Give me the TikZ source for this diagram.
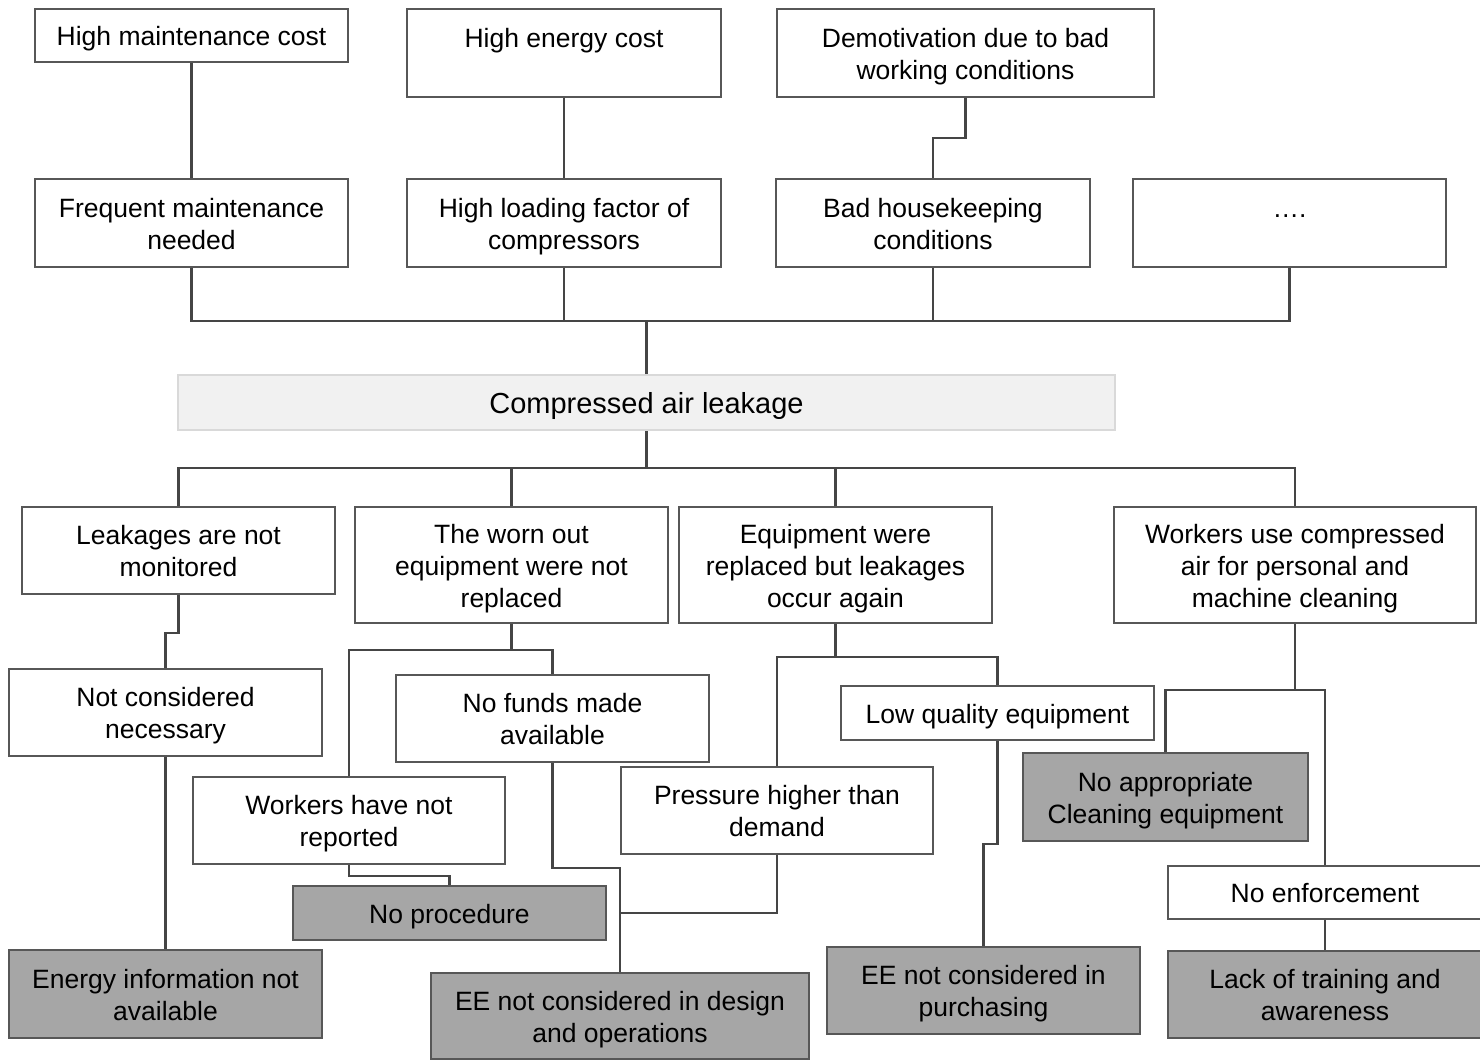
\documentclass[tikz,border=0pt]{standalone}
\usepackage{fontspec}
\setmainfont{Liberation Sans}
\definecolor{boxline}{HTML}{575757}
\definecolor{wire}{HTML}{454545}
\definecolor{rootfill}{HTML}{F1F1F1}
\definecolor{rootline}{HTML}{D9D9D9}
\definecolor{leaffill}{HTML}{A6A6A6}
% invisible struts: ascent for the first line, descent for the last one
\newcommand\fs{\rule{0pt}{0.98em}}
\newcommand\fe{\rule[-0.212em]{0pt}{0.212em}}
\begin{document}
\begin{tikzpicture}[x=1pt,y=-1pt,
  cause/.style={draw=boxline, line width=1.8pt, fill=white, inner sep=0pt, align=center,
    font=\fontsize{26.5}{32}\selectfont, text=black},
  rootcause/.style={cause, fill=leaffill},
  problem/.style={draw=rootline, line width=2pt, fill=rootfill, inner sep=0pt, align=center,
    font=\fontsize{29}{35}\selectfont, text=black},
  wirestyle/.style={draw=wire, line width=2.2pt}]
\fill[white] (0,0) rectangle (1480,1060);
\useasboundingbox (0,0) rectangle (1480,1060);

% effects
\node[cause, minimum width=313pt, minimum height=53pt] (A1) at (191.5,35.5) {\fs High maintenance cost\fe};
\node[cause, minimum width=314pt, minimum height=88pt] (A2) at (564,53) {\fs High energy cost\\ ~\fe};
\node[cause, minimum width=377pt, minimum height=88pt] (A3) at (965.5,53) {\fs Demotivation due to bad\\working conditions\fe};
\node[cause, minimum width=313pt, minimum height=88pt] (B1) at (191.5,223) {\fs Frequent maintenance\\needed\fe};
\node[cause, minimum width=314pt, minimum height=88pt] (B2) at (564,223) {\fs High loading factor of\\compressors\fe};
\node[cause, minimum width=314pt, minimum height=88pt] (B3) at (933,223) {\fs Bad housekeeping\\conditions\fe};
\node[cause, minimum width=313pt, minimum height=88pt] (B4) at (1289.5,223) {\fs ….\\ ~\fe};

% core problem
\node[problem, minimum width=937pt, minimum height=55pt] (C) at (646.5,402.5) {\fs Compressed air leakage\fe};

% causes
\node[cause, minimum width=313pt, minimum height=87pt] (L1) at (178.5,550.5) {\fs Leakages are not\\monitored\fe};
\node[cause, minimum width=313pt, minimum height=116pt] (L2) at (511.5,565) {\fs The worn out\\equipment were not\\replaced\fe};
\node[cause, minimum width=313pt, minimum height=116pt] (L3) at (835.5,565) {\fs Equipment were\\replaced but leakages\\occur again\fe};
\node[cause, minimum width=362pt, minimum height=116pt] (L4) at (1295,565) {\fs Workers use compressed\\air for personal and\\machine cleaning\fe};

\node[cause, minimum width=313pt, minimum height=87pt] (N1) at (165.5,712.5) {\fs Not considered\\necessary\fe};
\node[cause, minimum width=313pt, minimum height=87pt] (F) at (552.5,718.5) {\fs No funds made\\available\fe};
\node[cause, minimum width=312pt, minimum height=87pt] (W) at (349,820.5) {\fs Workers have not\\reported\fe};
\node[cause, minimum width=312pt, minimum height=87pt] (P) at (777,810.5) {\fs Pressure higher than\\demand\fe};
\node[cause, minimum width=313pt, minimum height=54pt] (LQ) at (997.5,713) {\fs Low quality equipment\fe};
\node[cause, minimum width=314pt, minimum height=53pt] (NE) at (1325,892.5) {\fs No enforcement\fe};

% root causes
\node[rootcause, minimum width=313pt, minimum height=54pt] (NP) at (449.5,913) {\fs No procedure\fe};
\node[rootcause, minimum width=285pt, minimum height=88pt] (NA) at (1165.5,797) {\fs No appropriate\\Cleaning equipment\fe};
\node[rootcause, minimum width=313pt, minimum height=88pt] (E1) at (165.5,994) {\fs Energy information not\\available\fe};
\node[rootcause, minimum width=378pt, minimum height=86pt] (EE1) at (620,1016) {\fs EE not considered in design\\and operations\fe};
\node[rootcause, minimum width=313pt, minimum height=87pt] (EE2) at (983.5,990.5) {\fs EE not considered in\\purchasing\fe};
\node[rootcause, minimum width=314pt, minimum height=87pt] (LT) at (1325,994.5) {\fs Lack of training and\\awareness\fe};

% bus levels
\coordinate (busup) at (0,321);
\coordinate (busdown) at (0,468);
\coordinate (joinEE) at (0,913);

% upper tree
\draw[wirestyle] (A1.south) -- (B1.north);
\draw[wirestyle] (A2.south) -- (B2.north);
\draw[wirestyle] (A3.south) -- ++(0,40) -| (B3.north);
\draw[wirestyle] (B1.south) -- (B1.south |- busup) -- (B4.south |- busup) -- (B4.south);
\draw[wirestyle] (B2.south) -- (B2.south |- busup);
\draw[wirestyle] (B3.south) -- (B3.south |- busup);
\draw[wirestyle] (C.north) -- (C.north |- busup);

% lower tree
\draw[wirestyle] (C.south) -- (C.south |- busdown);
\draw[wirestyle] (L1.north) -- (L1.north |- busdown) -- (L4.north |- busdown) -- (L4.north);
\draw[wirestyle] (L2.north) -- (L2.north |- busdown);
\draw[wirestyle] (L3.north) -- (L3.north |- busdown);

\draw[wirestyle] (L1.south) -- ++(0,38) -| (N1.north);
\draw[wirestyle] (N1.south) -- (E1.north);

\draw[wirestyle] (L2.south) -- ++(0,26) -| (W.north);
\draw[wirestyle] (L2.south) ++(0,26) -| (F.north);
\draw[wirestyle] (W.south) -- ++(0,11) -| (NP.north);
\draw[wirestyle] (F.south) -- ++(0,105) -| (EE1.north);
\draw[wirestyle] (P.south) |- (EE1.north |- joinEE);

\draw[wirestyle] (L3.south) -- ++(0,33) -| (P.north);
\draw[wirestyle] (L3.south) ++(0,33) -| (LQ.north);
\draw[wirestyle] (LQ.south) -- ++(0,103) -| (EE2.north);

\draw[wirestyle] (L4.south) -- ++(0,66) -| (NA.north);
\draw[wirestyle] (L4.south) ++(0,66) -| (NE.north);
\draw[wirestyle] (NE.south) -- (LT.north);
\end{tikzpicture}
\end{document}
